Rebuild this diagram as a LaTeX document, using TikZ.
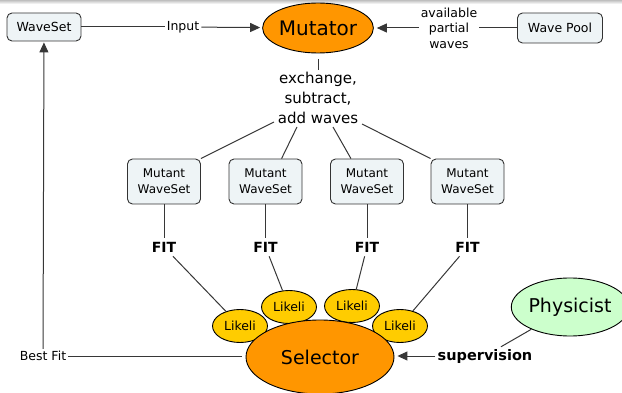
\documentclass[tikz,border=0pt]{standalone}
\usepackage{fontspec}
\setmainfont{DejaVu Sans}
\usetikzlibrary{shapes.geometric,arrows.meta}
\definecolor{boxfill}{RGB}{238,244,246}
\definecolor{orng}{RGB}{255,150,0}
\definecolor{yel}{RGB}{255,204,0}
\definecolor{grn}{RGB}{204,255,204}
\definecolor{ln}{RGB}{55,55,55}
\tikzset{
 wbox/.style={draw=black!80, fill=boxfill, rounded corners=5pt, line width=0.9pt, font=\fontsize{12.5}{15}\selectfont, inner sep=0pt, minimum width=74pt, minimum height=28pt},
 mbox/.style={wbox, minimum width=73pt, minimum height=45pt, align=center, font=\fontsize{12}{16}\selectfont},
 big/.style={ellipse, draw=black, fill=orng, line width=0.9pt, inner sep=0pt},
 lik/.style={ellipse, draw=black, fill=yel, line width=0.9pt, inner sep=0pt, minimum width=55pt, minimum height=33pt, font=\fontsize{12.5}{15}\selectfont},
 lbl/.style={font=\fontsize{12.5}{15.5}\selectfont, align=center, inner sep=2pt},
 fitl/.style={font=\fontsize{14}{16}\bfseries\selectfont, inner sep=4pt},
 conn/.style={draw=ln, line width=1pt},
 arr/.style={conn, -{Triangle[length=10pt,width=9pt]}}
}
\begin{document}
\begin{tikzpicture}[x=1pt,y=-1pt]
\useasboundingbox (0,0) rectangle (622,393);
\shade[top color=black!25, bottom color=white] (0,0) rectangle (622,4);
% top row
\node[wbox] (ws) at (44,27) {WaveSet};
\node[big, minimum width=100pt, minimum height=50pt, font=\fontsize{20}{24}\selectfont] (mut) at (318,28) {Mutator};
\node[wbox, minimum width=85pt, minimum height=30pt] (wp) at (560,28) {Wave Pool};
\node[lbl] (inp) at (183,27) {Input};
\node[lbl] (avail) at (449,28) {available\\partial\\waves};
\node[lbl, font=\fontsize{15}{20}\selectfont] (ex) at (318,98) {exchange,\\subtract,\\add waves};
% mutants
\node[mbox] (m1) at (164,181.5) {Mutant\\WaveSet};
\node[mbox] (m2) at (265.5,181.5) {Mutant\\WaveSet};
\node[mbox] (m3) at (367,181.5) {Mutant\\WaveSet};
\node[mbox] (m4) at (467.5,181.5) {Mutant\\WaveSet};
\node[fitl] (f1) at (164,247) {FIT};
\node[fitl] (f2) at (265.5,247) {FIT};
\node[fitl] (f3) at (367,247) {FIT};
\node[fitl] (f4) at (467.5,247) {FIT};
% likelihoods and selector
\node[lik] (l1) at (240,326) {Likeli};
\node[lik] (l2) at (289,307) {Likeli};
\node[lik] (l3) at (352,306) {Likeli};
\node[lik] (l4) at (400,326) {Likeli};
\node[big, minimum width=148pt, minimum height=74pt, font=\fontsize{19}{23}\selectfont] (sel) at (320,357) {Selector};
\node[ellipse, draw=black, fill=grn, line width=0.9pt, inner sep=0pt, minimum width=104pt, minimum height=58pt, font=\fontsize{19}{23}\selectfont] (phy) at (570,307) {Physicist};
\node[lbl] (bf) at (43,356) {Best Fit};
\node[lbl, font=\fontsize{14.5}{17}\bfseries\selectfont] (sup) at (485,356) {supervision};
% connectors
\draw[conn] (ws) -- (inp);
\draw[arr, shorten >=2pt] (inp) -- (mut);
\draw[conn] (wp.west) -- (avail.east);
\draw[arr, shorten >=3pt] (avail.west) -- (mut.east);
\draw[conn, shorten <=6pt] (mut) -- (ex);
\coordinate (e1) at (274,122);
\coordinate (e2) at (297,127);
\coordinate (e3) at (333,127);
\coordinate (e4) at (362,124);
\draw[conn] (e1) -- (m1.north east);
\draw[conn] (e2) -- (m2.55);
\draw[conn] (e3) -- (m3.125);
\draw[conn] (e4) -- (m4.north west);
\foreach \i in {1,2,3,4} {
  \draw[conn] (m\i) -- (f\i);
  \draw[conn] (f\i) -- (l\i);
}
\draw[conn, shorten >=4pt] (bf.east) -- (sel.west |- bf.east);
\draw[arr, shorten >=1pt] (bf) -- (ws);
\draw[arr, shorten >=3pt] (sup.west) -- (sel.east |- sup.west);
\draw[conn] (phy) -- (sup);
\end{tikzpicture}
\end{document}
